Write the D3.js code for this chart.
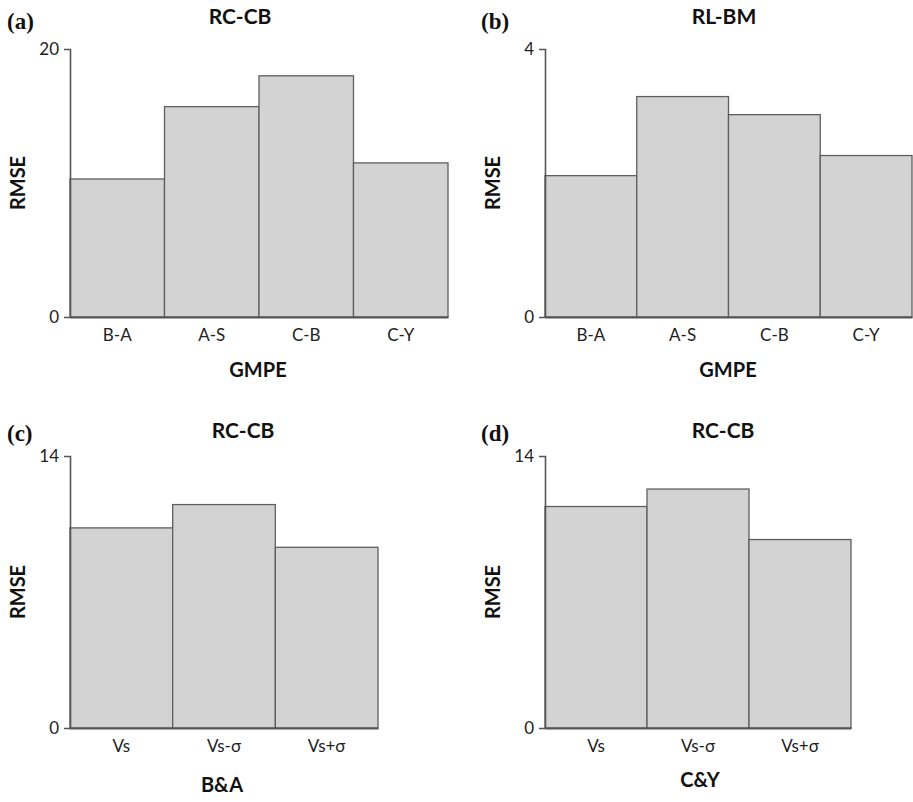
<!DOCTYPE html>
<html>
<head>
<meta charset="utf-8">
<script src="https://cdn.jsdelivr.net/npm/d3@7"></script>
<style>
  body { margin: 0; background: #fff; }
  text { font-family: Lato, "Open Sans", sans-serif; fill: #111; }
  .panelLabel { font-family: "Liberation Serif", "DejaVu Serif", serif; font-weight: bold; font-size: 23px; }
  .title { font-weight: bold; font-size: 21px; }
  .axisTitle { font-weight: bold; font-size: 20px; }
  .tick text { font-size: 17px; fill: #222; }
</style>
</head>
<body>
<div id="container"></div>
<script>
/* DATA */
const gmpeCats = ["B-A", "A-S", "C-B", "C-Y"];
const rmseRcCb = [10.3, 15.7, 18.0, 11.5];
const rmseRlBm = [2.11, 3.29, 3.02, 2.41];

const vsCats = ["Vs", "Vs-σ", "Vs+σ"];
const rmseBA = [10.3, 11.5, 9.3];
const rmseCY = [11.4, 12.3, 9.7];

const yMaxA = 20, yMaxB = 4, yMaxC = 14, yMaxD = 14;

/* CONSTANTS */
const width = 913, height = 802;

const svg = d3.select("#container")
  .append("svg")
  .attr("width", width)
  .attr("height", height);

// one panel: bars + axes + labels
function drawPanel(p) {
  const g = svg.append("g");

  const xScale = d3.scaleBand()
    .domain(p.cats)
    .range([p.left, p.right])
    .padding(0);

  const yScale = d3.scaleLinear()
    .domain([0, p.max])
    .range([p.bottom, p.top]);

  // bars
  g.selectAll("rect.bar")
    .data(p.cats.map((c, i) => ({ cat: c, val: p.vals[i] })))
    .join("rect")
    .attr("class", "bar")
    .attr("x", d => xScale(d.cat))
    .attr("y", d => yScale(d.val))
    .attr("width", xScale.bandwidth())
    .attr("height", d => p.bottom - yScale(d.val))
    .attr("fill", "#d3d3d3")
    .attr("stroke", "#5f5f5f")
    .attr("stroke-width", 1.3);

  // x axis (baseline + labels)
  const xAxis = g.append("g")
    .attr("class", "axis xAxis")
    .attr("transform", `translate(0,${p.bottom})`)
    .call(d3.axisBottom(xScale).tickSize(0).tickPadding(12).tickSizeOuter(0));
  xAxis.select(".domain").attr("stroke", "#555").attr("stroke-width", 2);

  // y axis
  const yAxis = g.append("g")
    .attr("class", "axis yAxis")
    .attr("transform", `translate(${p.left},0)`)
    .call(d3.axisLeft(yScale).tickValues([0, p.max]).tickFormat(d3.format("d"))
      .tickSize(0).tickSizeOuter(6).tickPadding(11));
  yAxis.select(".domain").attr("stroke", "#555").attr("stroke-width", 1.6).attr("fill", "none");

  // texts
  g.append("text")
    .attr("class", "panelLabel")
    .attr("x", p.labelX)
    .attr("y", p.labelY)
    .text(p.label);

  g.append("text")
    .attr("class", "title")
    .attr("text-anchor", "middle")
    .attr("x", p.titleX)
    .attr("y", p.titleY)
    .text(p.title);

  g.append("text")
    .attr("class", "axisTitle")
    .attr("text-anchor", "middle")
    .attr("transform", `translate(${p.left - 45},${(p.top + p.bottom) / 2}) rotate(-90)`)
    .text("RMSE");

  g.append("text")
    .attr("class", "axisTitle")
    .attr("text-anchor", "middle")
    .attr("x", p.xTitleX)
    .attr("y", p.xTitleY)
    .text(p.xTitle);
}

drawPanel({ cats: gmpeCats, vals: rmseRcCb, max: yMaxA,
  left: 70, right: 448, top: 49, bottom: 317,
  label: "(a)", labelX: 7, labelY: 29,
  title: "RC-CB", titleX: 240, titleY: 24,
  xTitle: "GMPE", xTitleX: 258, xTitleY: 377 });

drawPanel({ cats: gmpeCats, vals: rmseRlBm, max: yMaxB,
  left: 545, right: 912, top: 49, bottom: 317,
  label: "(b)", labelX: 481, labelY: 29,
  title: "RL-BM", titleX: 724, titleY: 24,
  xTitle: "GMPE", xTitleX: 728, xTitleY: 377 });

drawPanel({ cats: vsCats, vals: rmseBA, max: yMaxC,
  left: 70, right: 378, top: 456, bottom: 728,
  label: "(c)", labelX: 7, labelY: 441,
  title: "RC-CB", titleX: 243, titleY: 438,
  xTitle: "B&A", xTitleX: 222, xTitleY: 792 });

drawPanel({ cats: vsCats, vals: rmseCY, max: yMaxD,
  left: 545, right: 851, top: 456, bottom: 728,
  label: "(d)", labelX: 481, labelY: 441,
  title: "RC-CB", titleX: 723, titleY: 438,
  xTitle: "C&Y", xTitleX: 700, xTitleY: 787 });
</script>
</body>
</html>
